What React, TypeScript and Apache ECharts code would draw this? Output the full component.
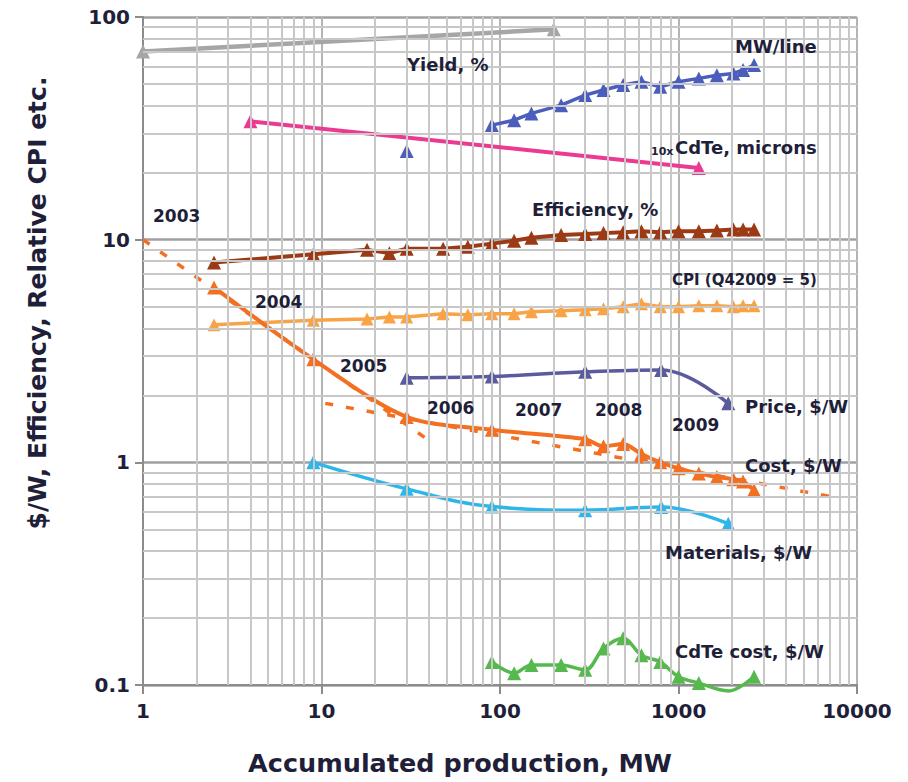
import React, { useEffect, useRef } from "react";
import * as echarts from "echarts";

// ---- data ----
const prodQ = [2.5, 9, 18, 24, 30, 48, 66, 90, 120, 150, 220, 300, 380, 490, 620, 790, 1000, 1300, 1640, 2030, 2300, 2650];
const efficiency = [7.9, 8.6, 9.0, 8.7, 9.1, 9.1, 9.3, 9.6, 9.9, 10.2, 10.5, 10.6, 10.7, 10.8, 10.9, 10.8, 10.9, 10.9, 11.0, 11.1, 11.1, 11.1];
const cpi = [4.15, 4.35, 4.4, 4.5, 4.5, 4.65, 4.6, 4.65, 4.65, 4.75, 4.8, 4.85, 4.9, 5.0, 5.15, 5.0, 5.0, 5.05, 5.05, 5.0, 5.05, 5.05];

const yieldX = [1, 200];
const yieldPct = [70, 88];

const mwLineX = [90, 120, 150, 220, 300, 380, 490, 620, 790, 1000, 1300, 1640, 2030, 2300, 2650];
const mwLine = [32.7, 34.4, 36.9, 40.2, 44.6, 47, 49.5, 51.2, 48.6, 51.2, 53, 54.8, 55.8, 57.8, 60.8];
const mwLineEarlyX = [30];
const mwLineEarly = [25];

const cdteThickX = [4, 1300];
const cdteThick = [34, 21];

const priceX = [30, 90, 300, 800, 1900];
const price = [2.4, 2.43, 2.55, 2.6, 1.84];

const costX = [2.5, 9, 30, 90, 300, 380, 490, 620, 790, 1000, 1300, 1640, 2030, 2300, 2650];
const cost = [6.1, 2.9, 1.6, 1.4, 1.27, 1.18, 1.21, 1.09, 1.0, 0.94, 0.89, 0.86, 0.84, 0.82, 0.75];

const materialsX = [9, 30, 90, 300, 800, 1900];
const materials = [1.0, 0.76, 0.633, 0.61, 0.63, 0.53];

const cdteCostX = [90, 120, 150, 220, 300, 380, 490, 620, 790, 1000, 1300, 1900, 2650];
const cdteCost = [0.127, 0.113, 0.123, 0.123, 0.117, 0.146, 0.162, 0.136, 0.127, 0.109, 0.102, 0.094, 0.109];
const cdteCostMarked = [true, true, true, true, true, true, true, true, true, true, true, false, true];

const trend1X = [1, 42];
const trend1 = [10, 1.22];
const trend2X = [10.5, 8000];
const trend2 = [1.84, 0.69];

const xDecades = [1, 10, 100, 1000];
const yDecades = [0.1, 1, 10];
const minorMult = [2, 3, 4, 5, 6, 7, 8, 9];

const xTicks = [1, 10, 100, 1000, 10000];
const yTicks = [0.1, 1, 10, 100];

const FONT = '"DejaVu Sans", sans-serif';
const TXT = "#1f1f3a";

const pts = (xs: number[], ys: number[]) => xs.map((x, i) => [x, ys[i]]);

function lineSeries(name: string, data: any[], color: string, width: number, opts: any = {}) {
  return {
    name,
    type: "line",
    data,
    clip: false,
    z: 3,
    symbol: "triangle",
    symbolSize: 14,
    itemStyle: { color },
    lineStyle: { color, width },
    ...opts,
  };
}

function label(text: string, x: number, y: number, size = 18, weight: any = "bold") {
  return {
    type: "text",
    x,
    y,
    z: 10,
    style: {
      text,
      fill: TXT,
      font: `${weight} ${size}px ${FONT}`,
      textAlign: "left",
      textVerticalAlign: "middle",
    },
  };
}

export default function App() {
  const ref = useRef<HTMLDivElement>(null);
  useEffect(() => {
    if (!ref.current) return;
    const chart = echarts.init(ref.current, undefined, { renderer: "svg" });

    const xMinor: any[] = [];
    xDecades.forEach((d) => minorMult.forEach((m) => xMinor.push({ xAxis: d * m })));
    const yMinor: any[] = [];
    yDecades.forEach((d) => minorMult.forEach((m) => yMinor.push({ yAxis: +(d * m).toPrecision(6) })));

    const option: any = {
      animation: false,
      backgroundColor: "#ffffff",
      grid: { left: 143, right: 51, top: 17, bottom: 97, containLabel: false },
      xAxis: {
        type: "log",
        logBase: 10,
        min: xTicks[0],
        max: xTicks[xTicks.length - 1],
        axisLine: { show: true, onZero: false, lineStyle: { color: "#8c8c8c", width: 2 } },
        axisTick: { show: true, length: 9, lineStyle: { color: "#8c8c8c", width: 2 } },
        axisLabel: {
          margin: 16,
          color: TXT,
          fontFamily: FONT,
          fontWeight: "bold",
          fontSize: 20,
          formatter: (v: number) => String(Math.round(v)),
        },
        splitLine: { show: true, lineStyle: { color: "#b4b4b4", width: 2 } },
        minorTick: { show: false },
      },
      yAxis: {
        type: "log",
        logBase: 10,
        min: yTicks[0],
        max: yTicks[yTicks.length - 1],
        axisLine: { show: true, onZero: false, lineStyle: { color: "#8c8c8c", width: 2 } },
        axisTick: { show: true, length: 8, lineStyle: { color: "#8c8c8c", width: 2 } },
        axisLabel: {
          margin: 13,
          color: TXT,
          fontFamily: FONT,
          fontWeight: "bold",
          fontSize: 20,
          formatter: (v: number) => (v < 1 ? v.toFixed(1) : String(Math.round(v))),
        },
        splitLine: { show: true, lineStyle: { color: "#a0a0a0", width: 2.5 } },
      },
      graphic: [
        {
          type: "text",
          x: 460,
          y: 763,
          style: {
            text: "Accumulated production, MW",
            fill: TXT,
            font: `bold 25.5px ${FONT}`,
            textAlign: "center",
            textVerticalAlign: "middle",
          },
        },
        {
          type: "text",
          x: 37,
          y: 303,
          rotation: Math.PI / 2,
          style: {
            text: "$/W, Efficiency, Relative CPI etc.",
            fill: TXT,
            font: `bold 25px ${FONT}`,
            textAlign: "center",
            textVerticalAlign: "middle",
          },
        },
        label("Yield, %", 407, 64),
        label("MW/line", 735, 46),
        label("10x", 651, 151, 11),
        label("CdTe, microns", 675, 147),
        label("Efficiency, %", 532, 209),
        label("2003", 153, 216, 17),
        label("2004", 255, 302, 17),
        label("2005", 340, 366, 17),
        label("2006", 427, 408, 17),
        label("2007", 515, 410, 17),
        label("2008", 595, 410, 17),
        label("2009", 672, 425, 17),
        label("CPI (Q42009 = 5)", 672, 280, 15, "bold"),
        label("Price, $/W", 745, 406),
        label("Cost, $/W", 745, 465),
        label("Materials, $/W", 665, 552),
        label("CdTe cost, $/W", 675, 651),
      ],
      series: [
        {
          name: "minor grid",
          type: "line",
          data: [[1, 1]],
          symbol: "none",
          lineStyle: { opacity: 0 },
          z: 1,
          silent: true,
          markLine: {
            silent: true,
            symbol: ["none", "none"],
            label: { show: false },
            emphasis: { disabled: true },
            lineStyle: { color: "#c8c8c8", width: 2, type: "solid" },
            data: [...xMinor, ...yMinor],
          },
        },
        lineSeries("Cost trend 2003-2005", pts(trend1X, trend1), "#f36f21", 3, {
          symbol: "none",
          lineStyle: { color: "#f36f21", width: 3.5, type: [8, 13] },
        }),
        lineSeries("Cost trend 2005-2009", pts(trend2X, trend2), "#f36f21", 3, {
          symbol: "none",
          lineStyle: { color: "#f36f21", width: 3.5, type: [8, 13] },
        }),
        lineSeries("Yield, %", pts(yieldX, yieldPct), "#a6a6a6", 4.5),
        lineSeries("MW/line", pts(mwLineX, mwLine), "#4c5ebd", 3.5),
        lineSeries("MW/line (early)", pts(mwLineEarlyX, mwLineEarly), "#4c5ebd", 3.5),
        lineSeries("10xCdTe, microns", pts(cdteThickX, cdteThick), "#ec3a93", 4),
        lineSeries("Efficiency, %", pts(prodQ, efficiency), "#9b3a14", 4),
        lineSeries("CPI (Q42009 = 5)", pts(prodQ, cpi), "#f8a446", 3.5, { symbolSize: 13 }),
        lineSeries("Price, $/W", pts(priceX, price), "#5a5a9e", 3.5, { smooth: 0.4 }),
        lineSeries("Cost, $/W", pts(costX, cost), "#f36f21", 4, { smooth: 0.3 }),
        lineSeries("Materials, $/W", pts(materialsX, materials), "#2db6ea", 3.5, { smooth: 0.4 }),
        lineSeries(
          "CdTe cost, $/W",
          cdteCostX.map((x, i) =>
            cdteCostMarked[i] ? { value: [x, cdteCost[i]] } : { value: [x, cdteCost[i]], symbol: "none" }
          ),
          "#56b94d",
          3.5,
          { smooth: 0.35 }
        ),
      ],
    };
    chart.setOption(option);
    return () => chart.dispose();
  }, []);
  return (
    <div
      ref={ref}
      style={{ position: "absolute", left: 0, top: 0, width: 908, height: 782, background: "#fff" }}
    />
  );
}
